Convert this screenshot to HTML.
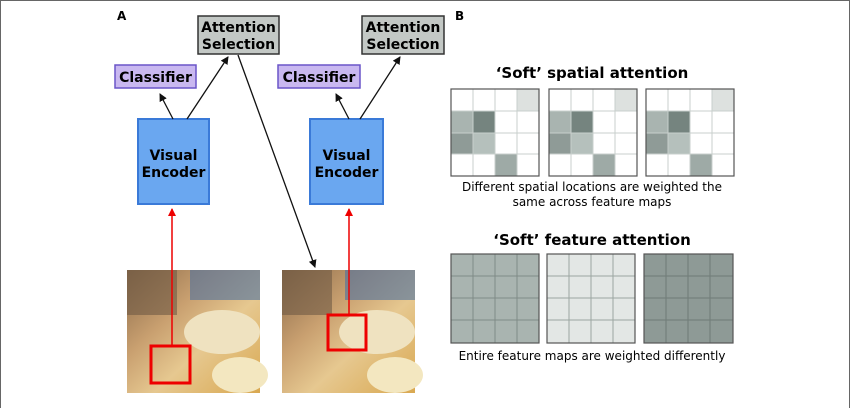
<!DOCTYPE html>
<html><head><meta charset="utf-8"><style>
html,body{margin:0;padding:0;background:#fff;}
svg{display:block;}
text{font-family:"DejaVu Sans","Liberation Sans",sans-serif;}
</style></head><body>
<svg width="850" height="408" viewBox="0 0 850 408" xmlns="http://www.w3.org/2000/svg">
<defs>
<marker id="ab" markerWidth="8" markerHeight="8" refX="7" refY="4" orient="auto" markerUnits="userSpaceOnUse"><path d="M0,0 L8,4 L0,8 z" fill="#111"/></marker>
<marker id="ar" markerWidth="8" markerHeight="8" refX="7" refY="4" orient="auto" markerUnits="userSpaceOnUse"><path d="M0,0 L8,4 L0,8 z" fill="#e00"/></marker>
<linearGradient id="ph" x1="0" y1="0" x2="1" y2="1">
<stop offset="0" stop-color="#8a6a4a"/><stop offset="0.35" stop-color="#c9a070"/><stop offset="0.6" stop-color="#e6c890"/><stop offset="1" stop-color="#d9a850"/></linearGradient>
</defs>
<rect x="0.5" y="0.5" width="849" height="420" fill="#fff" stroke="#666"/>
<text x="117" y="20" font-size="12" font-weight="bold">A</text>
<text x="455" y="20" font-size="12" font-weight="bold">B</text>

<rect x="198" y="16" width="81" height="38" fill="#c3c8c5" stroke="#333" stroke-width="1.5"/>
<text x="238.5" y="32" font-size="14" font-weight="bold" text-anchor="middle">Attention</text>
<text x="238.5" y="49" font-size="14" font-weight="bold" text-anchor="middle">Selection</text>
<rect x="115" y="65" width="81" height="23" fill="#c9b8f0" stroke="#6a55c8" stroke-width="1.5"/>
<text x="155.5" y="82" font-size="14" font-weight="bold" text-anchor="middle">Classifier</text>
<rect x="138" y="119" width="71" height="85" fill="#6aa7f0" stroke="#3a7ad8" stroke-width="2"/>
<text x="173.5" y="160" font-size="14" font-weight="bold" text-anchor="middle">Visual</text>
<text x="173.5" y="177" font-size="14" font-weight="bold" text-anchor="middle">Encoder</text>

<rect x="362" y="16" width="82" height="38" fill="#c3c8c5" stroke="#333" stroke-width="1.5"/>
<text x="403" y="32" font-size="14" font-weight="bold" text-anchor="middle">Attention</text>
<text x="403" y="49" font-size="14" font-weight="bold" text-anchor="middle">Selection</text>
<rect x="278" y="65" width="82" height="23" fill="#c9b8f0" stroke="#6a55c8" stroke-width="1.5"/>
<text x="319" y="82" font-size="14" font-weight="bold" text-anchor="middle">Classifier</text>
<rect x="310" y="119" width="73" height="85" fill="#6aa7f0" stroke="#3a7ad8" stroke-width="2"/>
<text x="346.5" y="160" font-size="14" font-weight="bold" text-anchor="middle">Visual</text>
<text x="346.5" y="177" font-size="14" font-weight="bold" text-anchor="middle">Encoder</text>

<g stroke="#111" stroke-width="1.3" fill="none">
<line x1="173" y1="119" x2="160" y2="94" marker-end="url(#ab)"/>
<line x1="187" y1="119" x2="228" y2="57" marker-end="url(#ab)"/>
<line x1="238" y1="55" x2="315" y2="267" marker-end="url(#ab)"/>
<line x1="349" y1="119" x2="336" y2="94" marker-end="url(#ab)"/>
<line x1="360" y1="119" x2="400" y2="57" marker-end="url(#ab)"/>
</g>

<g>
<rect x="127" y="270" width="133" height="123" fill="url(#ph)"/>
<rect x="127" y="270" width="50" height="45" fill="#6f5a45" opacity="0.6"/>
<rect x="190" y="270" width="70" height="30" fill="#4b6fa0" opacity="0.6"/>
<ellipse cx="222" cy="332" rx="38" ry="22" fill="#efe2c0"/>
<ellipse cx="240" cy="375" rx="28" ry="18" fill="#f3e7c0"/>
<rect x="282" y="270" width="133" height="123" fill="url(#ph)"/>
<rect x="282" y="270" width="50" height="45" fill="#6f5a45" opacity="0.6"/>
<rect x="345" y="270" width="70" height="30" fill="#4b6fa0" opacity="0.6"/>
<ellipse cx="377" cy="332" rx="38" ry="22" fill="#efe2c0"/>
<ellipse cx="395" cy="375" rx="28" ry="18" fill="#f3e7c0"/>
</g>
<g stroke="#e00" fill="none">
<line x1="172" y1="345" x2="172" y2="209" stroke-width="1.5" marker-end="url(#ar)"/>
<rect x="151" y="346" width="39" height="37" stroke-width="3"/>
<line x1="349" y1="314" x2="349" y2="209" stroke-width="1.5" marker-end="url(#ar)"/>
<rect x="328" y="315" width="38" height="35" stroke-width="3"/>
</g>

<text x="592" y="78" font-size="15" font-weight="bold" text-anchor="middle">‘Soft’ spatial attention</text>
<g id="sp">
<rect x="451" y="89" width="88" height="87" fill="#fff"/>
<rect x="517" y="89" width="22" height="22" fill="#dde1df"/>
<rect x="451" y="111" width="22" height="22" fill="#a9b4b0"/>
<rect x="473" y="111" width="22" height="22" fill="#75847f"/>
<rect x="451" y="133" width="22" height="21" fill="#8f9b97"/>
<rect x="473" y="133" width="22" height="21" fill="#b5c0bc"/>
<rect x="495" y="154" width="22" height="22" fill="#9eaaa6"/>
<g stroke="#c8cfcc" stroke-width="1"><line x1="473" y1="89" x2="473" y2="176"/><line x1="495" y1="89" x2="495" y2="176"/><line x1="517" y1="89" x2="517" y2="176"/><line x1="451" y1="111" x2="539" y2="111"/><line x1="451" y1="133" x2="539" y2="133"/><line x1="451" y1="154" x2="539" y2="154"/></g>
<rect x="451" y="89" width="88" height="87" fill="none" stroke="#555" stroke-width="1.2"/>
</g>
<use href="#sp" x="98"/>
<use href="#sp" x="195"/>
<text x="592" y="191" font-size="12" text-anchor="middle">Different spatial locations are weighted the</text>
<text x="592" y="206" font-size="12" text-anchor="middle">same across feature maps</text>

<text x="592" y="245" font-size="15" font-weight="bold" text-anchor="middle">‘Soft’ feature attention</text>
<g>
<rect x="451" y="254" width="88" height="89" fill="#a9b4b0"/>
<g stroke="#7f8b87" stroke-width="1"><line x1="473" y1="254" x2="473" y2="343"/><line x1="495" y1="254" x2="495" y2="343"/><line x1="517" y1="254" x2="517" y2="343"/><line x1="451" y1="276" x2="539" y2="276"/><line x1="451" y1="298" x2="539" y2="298"/><line x1="451" y1="320" x2="539" y2="320"/></g>
<rect x="451" y="254" width="88" height="89" fill="none" stroke="#555" stroke-width="1.2"/>
</g>
<rect x="547" y="254" width="88" height="89" fill="#e3e7e5"/>
<g stroke="#9ba5a1" stroke-width="1"><line x1="569" y1="254" x2="569" y2="343"/><line x1="591" y1="254" x2="591" y2="343"/><line x1="613" y1="254" x2="613" y2="343"/><line x1="547" y1="276" x2="635" y2="276"/><line x1="547" y1="298" x2="635" y2="298"/><line x1="547" y1="320" x2="635" y2="320"/></g>
<rect x="547" y="254" width="88" height="89" fill="none" stroke="#555" stroke-width="1.2"/>
<rect x="644" y="254" width="89" height="89" fill="#8e9a96"/>
<g stroke="#6f7b77" stroke-width="1"><line x1="666" y1="254" x2="666" y2="343"/><line x1="688" y1="254" x2="688" y2="343"/><line x1="710" y1="254" x2="710" y2="343"/><line x1="644" y1="276" x2="733" y2="276"/><line x1="644" y1="298" x2="733" y2="298"/><line x1="644" y1="320" x2="733" y2="320"/></g>
<rect x="644" y="254" width="89" height="89" fill="none" stroke="#555" stroke-width="1.2"/>
<text x="592" y="360" font-size="12" text-anchor="middle">Entire feature maps are weighted differently</text>
</svg>
</body></html>
